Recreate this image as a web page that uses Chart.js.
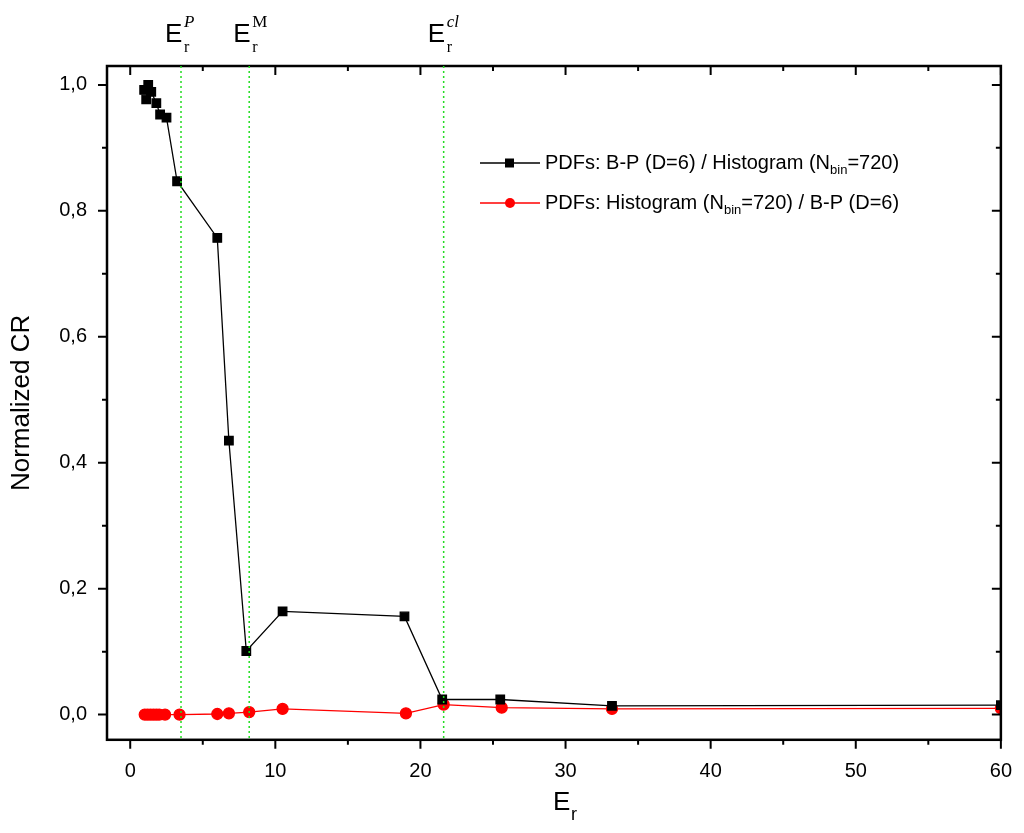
<!DOCTYPE html><html><head><script src="https://cdn.jsdelivr.net/npm/chart.js"></script>
<style>body{margin:0;background:#fff}#w{width:1024px;height:833px;position:relative}</style></head><body><div id="w"><canvas id="c"></canvas></div>
<script>
const blackX=[0.96,1.24,1.1,1.45,1.8,2.06,2.5,3.23,6.0,6.8,8.0,10.5,18.9,21.5,25.5,33.2,60];
const blackY=[0.992,1.0,0.977,0.989,0.971,0.953,0.948,0.847,0.757,0.435,0.101,0.164,0.156,0.024,0.024,0.014,0.015];
const redX=[1.0,1.2,1.4,1.6,1.8,2.0,2.4,3.4,6.0,6.8,8.2,10.5,19,21.6,25.6,33.2,60];
const redY=[0,0,0,0,0,0,0,0,0.001,0.002,0.004,0.009,0.002,0.016,0.011,0.009,0.010];
const vlines=[3.5,8.2,21.6];
const vlabels=[['E','r','P',true],['E','r','M',false],['E','r','cl',true]];
const xy=(xs,ys)=>xs.map((x,i)=>({x,y:ys[i]}));
const deco={id:'deco',afterDraw(ch){const c=ch.ctx,a=ch.chartArea,xs=ch.scales.x,ys=ch.scales.y;c.save();
c.strokeStyle='#000';c.lineWidth=2.5;c.strokeRect(a.left,a.top,a.right-a.left,a.bottom-a.top);
c.lineWidth=2;
[0,10,20,30,40,50,60].forEach(v=>{const p=xs.getPixelForValue(v);c.beginPath();c.moveTo(p,a.bottom);c.lineTo(p,a.bottom+9);c.moveTo(p,a.top);c.lineTo(p,a.top+9);c.stroke();});
[5,15,25,35,45,55].forEach(v=>{const p=xs.getPixelForValue(v);c.beginPath();c.moveTo(p,a.bottom);c.lineTo(p,a.bottom+5);c.moveTo(p,a.top);c.lineTo(p,a.top+5);c.stroke();});
for(let k=0;k<=10;k++){const v=k/10,p=ys.getPixelForValue(v),L=k%2==0?9:5;c.beginPath();c.moveTo(a.left-L,p);c.lineTo(a.left,p);c.moveTo(a.right,p);c.lineTo(a.right-L,p);c.stroke();}
c.setLineDash([2,3]);c.strokeStyle='#22dd22';c.lineWidth=1.5;
vlines.forEach((v,i)=>{const p=xs.getPixelForValue(v);c.beginPath();c.moveTo(p,a.top);c.lineTo(p,a.bottom);c.stroke();
const L=vlabels[i];c.fillStyle='#000';c.textAlign='left';c.textBaseline='alphabetic';c.font='26px "Liberation Sans"';const bx=p-16;c.fillText(L[0],bx,42);
c.font='16px "Liberation Serif"';c.fillText(L[1],bx+19,52);c.font=(L[3]?'italic ':'')+'17px "Liberation Serif"';c.fillText(L[2],bx+19,27);});
c.setLineDash([]);
const lg=[['#000','rect','PDFs: B-P (D=6) / Histogram (N','bin','=720)'],['#f00','circle','PDFs: Histogram (N','bin','=720) / B-P (D=6)']];
lg.forEach((e,i)=>{const y=163+i*40;c.strokeStyle=e[0];c.fillStyle=e[0];c.lineWidth=1.5;c.beginPath();c.moveTo(480,y);c.lineTo(540,y);c.stroke();
if(e[1]=='rect')c.fillRect(505,y-4.5,9,9);else{c.beginPath();c.arc(510,y,5,0,7);c.fill();}
c.fillStyle='#000';c.font='20px "Liberation Sans"';c.textBaseline='middle';let x=545;c.fillText(e[2],x,y);x+=c.measureText(e[2]).width;
c.font='13px "Liberation Sans"';c.fillText(e[3],x,y+7);x+=c.measureText(e[3]).width;c.font='20px "Liberation Sans"';c.fillText(e[4],x,y);});
c.font='26px "Liberation Sans"';c.textBaseline='alphabetic';c.textAlign='left';c.fillText('E',553,810);c.font='18px "Liberation Sans"';c.fillText('r',571,820);
c.restore();}};
new Chart(document.getElementById('c'),{type:'scatter',data:{datasets:[
{data:xy(blackX,blackY),showLine:true,borderColor:'#000',backgroundColor:'#000',borderWidth:1.3,pointStyle:'rect',pointRadius:6,pointHoverRadius:6},
{data:xy(redX,redY),showLine:true,borderColor:'#f00',backgroundColor:'#f00',borderWidth:1.3,pointStyle:'circle',pointRadius:5.5,pointHoverRadius:5.5}]},
options:{responsive:true,maintainAspectRatio:false,animation:false,layout:{padding:{top:66,right:21,left:6,bottom:0}},
plugins:{legend:{display:false},tooltip:{enabled:false}},
scales:{x:{type:'linear',min:-1.6,max:60,afterBuildTicks:s=>{s.ticks=[0,10,20,30,40,50,60].map(v=>({value:v}))},grid:{display:false},border:{display:false},
ticks:{font:{size:20,family:'Liberation Sans'},color:'#000',padding:12,maxRotation:0},title:{display:true,text:' ',font:{size:26},padding:{top:0,bottom:6}}},
y:{min:-0.04,max:1.03,afterBuildTicks:s=>{s.ticks=[0,0.2,0.4,0.6,0.8,1].map(v=>({value:v}))},grid:{display:false},border:{display:false},
ticks:{font:{size:20,family:'Liberation Sans'},color:'#000',padding:12,callback:v=>v.toFixed(1).replace('.',',')},
title:{display:true,text:'Normalized CR',font:{size:26,family:'Liberation Sans'},color:'#000',padding:{bottom:10,top:0}}}}},plugins:[deco]});
</script></body></html>
